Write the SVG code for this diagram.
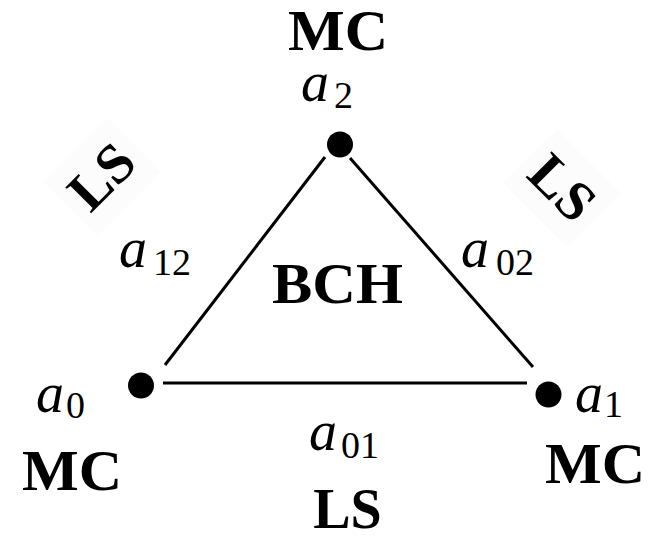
<svg xmlns="http://www.w3.org/2000/svg" width="658" height="540" viewBox="0 0 658 540">
<style>
.b{font-family:"Liberation Serif","Times New Roman",serif;font-weight:bold;font-size:56px;fill:#000}
.i{font-family:"Liberation Serif","Times New Roman",serif;font-style:italic;font-size:56px;fill:#000}
.s{font-family:"Liberation Serif","Times New Roman",serif;font-size:38px;fill:#000}
.dot{fill:#000}
.edge{stroke:#000;stroke-width:3;fill:none}
.bg{fill:#fcfcfc}
</style>
<rect width="658" height="540" fill="#fff"/>
<g id="connectors">
<line class="edge" x1="325" y1="157" x2="165" y2="365"/>
<line class="edge" x1="163" y1="383" x2="527" y2="383"/>
<line class="edge" x1="350" y1="158" x2="533" y2="367"/>
</g>
<g id="node-a2">
<circle class="dot" cx="340" cy="144.5" r="13"/>
<text class="b" x="338" y="50" text-anchor="middle" font-size="54" textLength="100" lengthAdjust="spacingAndGlyphs">MC</text>
<text class="i" x="301" y="101" font-size="54">a</text><text class="s" x="334" y="108">2</text>
</g>
<g id="node-a0">
<circle class="dot" cx="141" cy="385.5" r="13"/>
<text class="i" x="36" y="412">a</text><text class="s" x="66" y="418">0</text>
<text class="b" x="72" y="490" text-anchor="middle" textLength="100" lengthAdjust="spacingAndGlyphs">MC</text>
</g>
<g id="node-a1">
<circle class="dot" cx="548.5" cy="394.5" r="13"/>
<text class="i" x="575" y="412">a</text><text class="s" x="604" y="417">1</text>
<text class="b" x="595" y="483" text-anchor="middle" textLength="100" lengthAdjust="spacingAndGlyphs">MC</text>
</g>
<g id="face">
<text class="b" x="337.5" y="303" text-anchor="middle" textLength="131" lengthAdjust="spacingAndGlyphs">BCH</text>
</g>
<g id="edge-a12">
<rect class="bg" x="-45" y="-38" width="90" height="76" transform="translate(102,177) rotate(-45)"/>
<text class="b" text-anchor="middle" transform="translate(102,177) rotate(-45)" y="18">LS</text>
<text class="i" x="119" y="267">a</text><text class="s" x="153" y="275">12</text>
</g>
<g id="edge-a02">
<rect class="bg" x="-45" y="-38" width="90" height="76" transform="translate(562,188) rotate(45)"/>
<text class="b" text-anchor="middle" transform="translate(562,188) rotate(45)" y="18">LS</text>
<text class="i" x="461" y="267">a</text><text class="s" x="496" y="275">02</text>
</g>
<g id="edge-a01">
<text class="i" x="309" y="450">a</text><text class="s" x="341" y="458">01</text>
<text class="b" x="347.5" y="528" text-anchor="middle">LS</text>
</g>
</svg>
